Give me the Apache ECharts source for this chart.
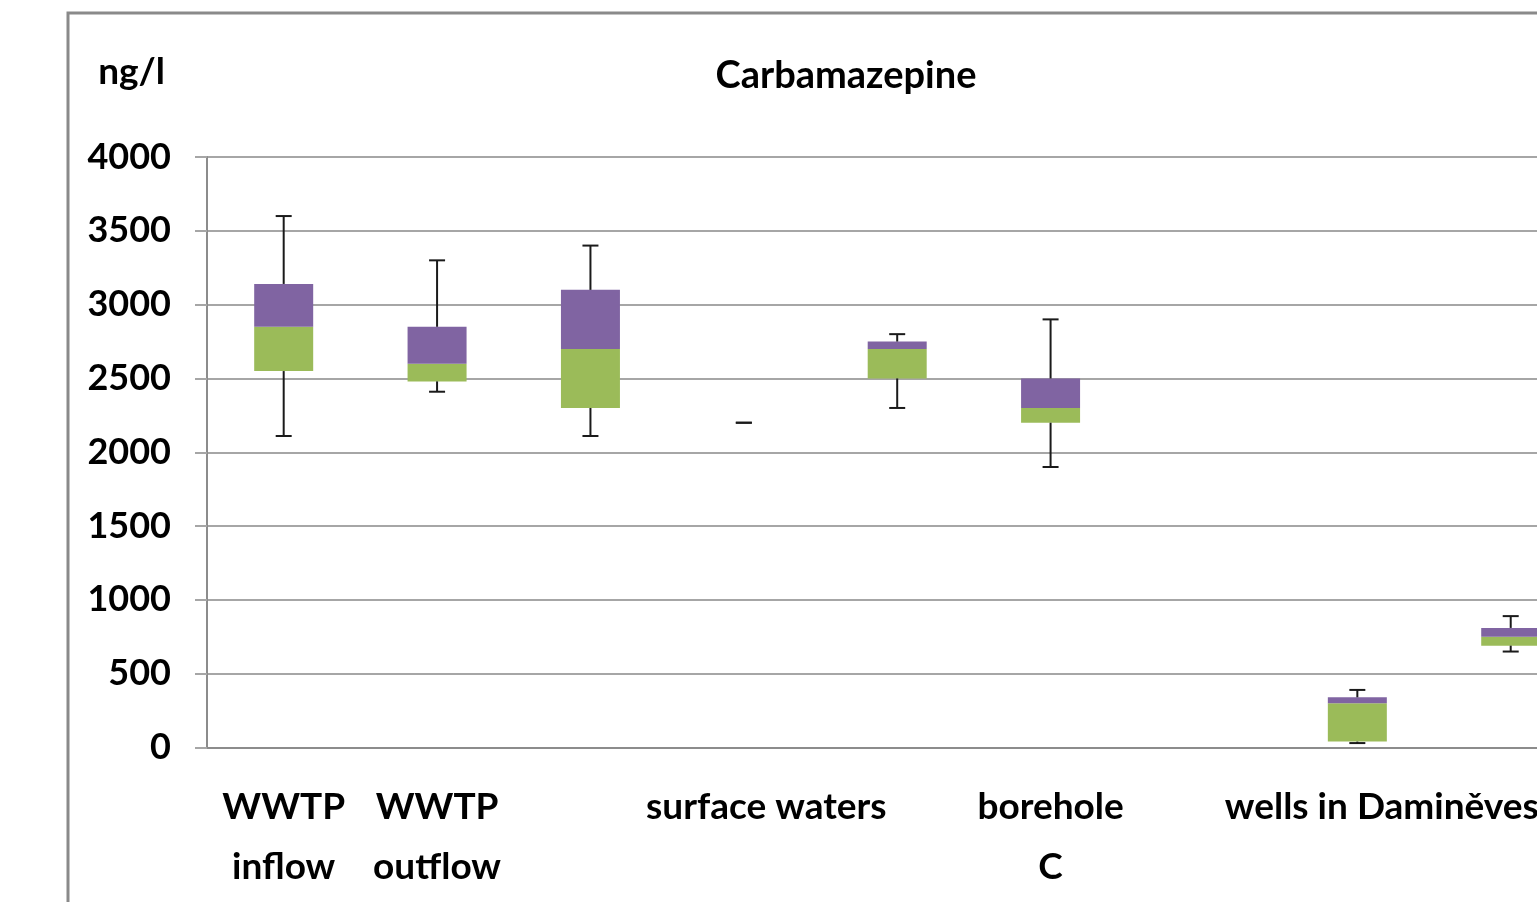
<!DOCTYPE html>
<html>
<head>
<meta charset="utf-8">
<script src="https://cdn.jsdelivr.net/npm/echarts@6/dist/echarts.min.js"></script>
<style>
  html, body { margin: 0; padding: 0; background: #fff; overflow: hidden; }
  /* the original figure is cropped on the right, so the chart is wider than the window */
  #chart { width: 1620px; height: 902px; }
</style>
</head>
<body>
<div id="chart"></div>
<script>
// categories (last one is cut off at the right edge)
var categories = ['WWTP\ninflow', 'WWTP\noutflow', '', 'surface waters', '', 'borehole\nC', '', 'wells in Daminěves', '']
// box plot statistics, ng/l
var minVals = [2110, 2410, 2110, 2200, 2300, 1900, null, 30, 650]
var q1Vals = [2550, 2480, 2300, 2200, 2500, 2200, null, 40, 690]
var medVals = [2850, 2600, 2700, 2200, 2700, 2300, null, 300, 750]
var q3Vals = [3140, 2850, 3100, 2200, 2750, 2500, null, 340, 810]
var maxVals = [3600, 3300, 3400, 2200, 2800, 2900, null, 390, 890]
var yTicks = [0, 500, 1000, 1500, 2000, 2500, 3000, 3500, 4000]

var FONT = 'Lato'
var labelShift = { 'surface waters': 45, 'wells in Daminěves': 49 }

var catData = categories.map(function (c) {
  if (labelShift[c]) {
    return { value: c, textStyle: { padding: [0, 0, 0, labelShift[c]] } }
  }
  return c
})

var lowerBox = q1Vals.map(function (q, i) {
  return q == null || medVals[i] - q === 0 ? null : medVals[i] - q
})
var upperBox = q3Vals.map(function (q, i) {
  return q == null || q - medVals[i] === 0 ? null : q - medVals[i]
})
var whiskerData = []
minVals.forEach(function (v, i) {
  if (v != null) whiskerData.push([i, v, q1Vals[i], q3Vals[i], maxVals[i]])
})

var chart = echarts.init(document.getElementById('chart'))

var option = {
  animation: false,
  title: {
    text: 'Carbamazepine',
    left: 841,
    top: 52,
    textAlign: 'center',
    textStyle: { fontFamily: FONT, fontWeight: 'bold', fontSize: 38, color: '#000' }
  },
  graphic: [{
    type: 'rect',
    shape: { x: 68, y: 13, width: 1700, height: 1000 },
    style: { fill: 'none', stroke: '#8a8a8a', lineWidth: 3 },
    silent: true
  }],
  grid: { left: 207, width: 1380.4, top: 157, bottom: 154.5 },
  xAxis: {
    type: 'category',
    data: catData,
    axisLine: { lineStyle: { color: '#8c8c8c', width: 2 } },
    axisTick: { interval: 0, length: 16, lineStyle: { color: '#8c8c8c', width: 2 } },
    axisLabel: {
      interval: 0,
      margin: 30,
      fontFamily: FONT,
      fontWeight: 'bold',
      fontSize: 37,
      lineHeight: 60,
      color: '#000'
    }
  },
  yAxis: {
    type: 'value',
    min: yTicks[0],
    max: yTicks[yTicks.length - 1],
    interval: 500,
    name: 'ng/l',
    nameLocation: 'end',
    nameGap: 66,
    nameTextStyle: {
      fontFamily: FONT, fontWeight: 'bold', fontSize: 37, color: '#000',
      align: 'right', padding: [0, 42, 0, 0]
    },
    axisLine: { show: true, lineStyle: { color: '#8c8c8c', width: 2 } },
    axisTick: { show: true, length: 12, lineStyle: { color: '#a6a6a6', width: 2 } },
    splitLine: { lineStyle: { color: '#a6a6a6', width: 2 } },
    axisLabel: {
      margin: 36,
      fontFamily: FONT,
      fontWeight: 'bold',
      fontSize: 36,
      color: '#000',
      formatter: function (v) { return String(v) }
    }
  },
  series: [
    {
      name: 'base',
      type: 'bar',
      stack: 'box',
      barWidth: 59,
      itemStyle: { color: 'rgba(0,0,0,0)' },
      data: q1Vals,
      silent: true
    },
    {
      name: 'Q1-median',
      type: 'bar',
      stack: 'box',
      barWidth: 59,
      itemStyle: { color: '#9BBB59' },
      data: lowerBox
    },
    {
      name: 'median-Q3',
      type: 'bar',
      stack: 'box',
      barWidth: 59,
      itemStyle: { color: '#8064A2' },
      data: upperBox
    },
    {
      name: 'whiskers',
      type: 'custom',
      z: 5,
      encode: { x: 0, y: [1, 2, 3, 4] },
      data: whiskerData,
      renderItem: function (params, api) {
        var x = api.value(0)
        var pMin = api.coord([x, api.value(1)])
        var pQ1 = api.coord([x, api.value(2)])
        var pQ3 = api.coord([x, api.value(3)])
        var pMax = api.coord([x, api.value(4)])
        var cap = 8
        var style = { stroke: '#1a1a1a', lineWidth: 2 }
        return {
          type: 'group',
          children: [
            { type: 'line', shape: { x1: pMin[0], y1: pMin[1], x2: pQ1[0], y2: pQ1[1] }, style: style },
            { type: 'line', shape: { x1: pQ3[0], y1: pQ3[1], x2: pMax[0], y2: pMax[1] }, style: style },
            { type: 'line', shape: { x1: pMin[0] - cap, y1: pMin[1], x2: pMin[0] + cap, y2: pMin[1] }, style: style },
            { type: 'line', shape: { x1: pMax[0] - cap, y1: pMax[1], x2: pMax[0] + cap, y2: pMax[1] }, style: style }
          ]
        }
      }
    }
  ]
}

chart.setOption(option)
</script>
</body>
</html>
